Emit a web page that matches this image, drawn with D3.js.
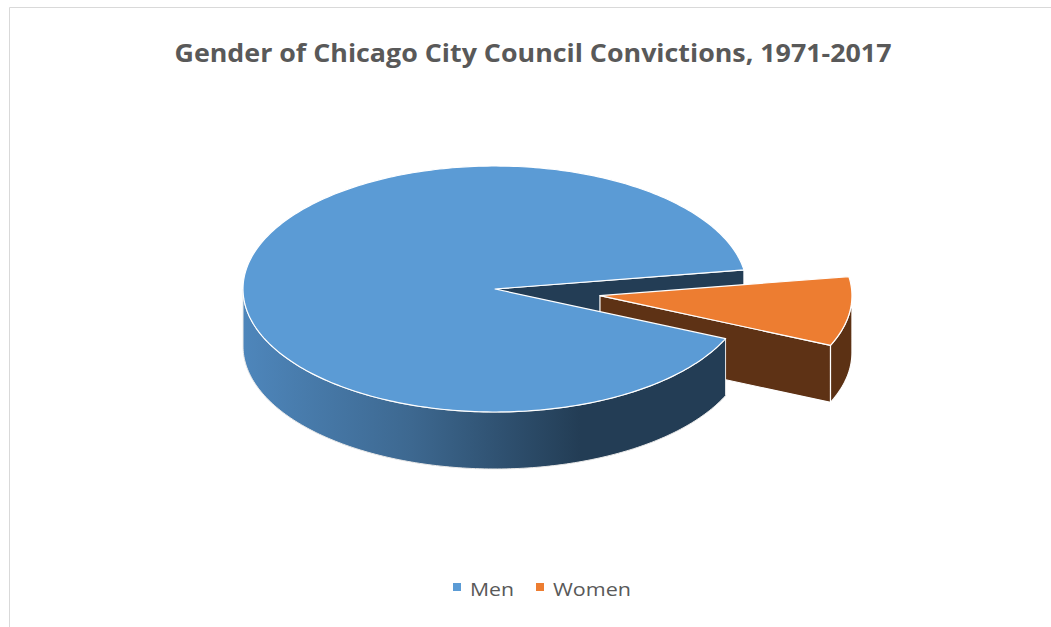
<!DOCTYPE html>
<html><head><meta charset="utf-8">
<script src="https://cdn.jsdelivr.net/npm/d3@7"></script>
<style>html,body{margin:0;padding:0;background:#fff}svg{display:block}</style>
</head><body>
<script>
const title = "Gender of Chicago City Council Convictions, 1971-2017";
const categories = ["Men", "Women"];
const values = [30, 3];
const topColors = ["#5b9bd5", "#ed7d31"];
const explode = [0, 0.42];

const W = 1051, H = 627;
const svg = d3.select("body").append("svg").attr("width", W).attr("height", H);

// frame
svg.append("path").attr("d", `M9.5,${H} V7.5 H${W}`).attr("fill", "none").attr("stroke", "#d9d9d9").attr("stroke-width", 1);

const cx = 495, cy = 289, rx = 252, ry = 123, depth = 57;
const deg = Math.PI / 180;
const pie = d3.pie().sort(null).value(d => d).startAngle(113.8 * deg).endAngle(113.8 * deg + 2 * Math.PI);
const arcs = pie(values);

const defs = svg.append("defs");
const g1 = defs.append("linearGradient").attr("id", "menSide").attr("gradientUnits", "userSpaceOnUse")
  .attr("x1", cx - rx).attr("x2", 580).attr("y1", 0).attr("y2", 0);
g1.append("stop").attr("offset", 0).attr("stop-color", "#4e86bb");
g1.append("stop").attr("offset", 0.5).attr("stop-color", "#3d6890");
g1.append("stop").attr("offset", 1).attr("stop-color", "#233d55");

function pt(th, r, h, off) {
  return [off[0] + cx + rx * r * Math.cos(th), off[1] + cy + ry * r * Math.sin(th) + h];
}
function arcPts(t0, t1, h, off) {
  const n = Math.max(2, Math.ceil(Math.abs(t1 - t0) / (1 * deg)));
  const pts = [];
  for (let i = 0; i <= n; i++) pts.push(pt(t0 + (t1 - t0) * i / n, 1, h, off));
  return pts;
}
const line = d3.line();

const slices = arcs.map((a, i) => {
  const t0 = a.startAngle - Math.PI / 2, t1 = a.endAngle - Math.PI / 2;
  const mid = (t0 + t1) / 2;
  const off = [rx * explode[i] * Math.cos(mid), ry * explode[i] * Math.sin(mid)];
  return { i, t0, t1, off };
});

function topPath(s) {
  const c = pt(0, 0, 0, s.off);
  return line([c, ...arcPts(s.t0, s.t1, 0, s.off)]) + "Z";
}
function radialPath(s, th) {
  const c = pt(0, 0, 0, s.off), e = pt(th, 1, 0, s.off);
  const eb = pt(th, 1, depth, s.off), cb = pt(0, 0, depth, s.off);
  return line([c, e, eb, cb]) + "Z";
}
function sidePath(s) {
  const segs = [];
  for (let k = -1; k <= 2; k++) {
    const lo = Math.max(s.t0, k * 2 * Math.PI), hi = Math.min(s.t1, k * 2 * Math.PI + Math.PI);
    if (hi > lo) segs.push([lo, hi]);
  }
  return segs.map(([lo, hi]) => {
    const top = arcPts(lo, hi, 0, s.off), bot = arcPts(hi, lo, depth, s.off);
    return line([...top, ...bot]) + "Z";
  }).join(" ");
}

const men = slices[0], women = slices[1];
const stroke = { c: "#ffffff", w: 1.2 };

svg.append("path").attr("d", radialPath(men, men.t1)).attr("fill", "#233d55").attr("stroke", stroke.c).attr("stroke-width", stroke.w).attr("stroke-linejoin", "round");

svg.append("path").attr("d", radialPath(women, women.t1)).attr("fill", "#5e3215").attr("stroke", stroke.c).attr("stroke-width", stroke.w).attr("stroke-linejoin", "round");
svg.append("path").attr("d", sidePath(women)).attr("fill", "#5c3114").attr("stroke", stroke.c).attr("stroke-width", stroke.w).attr("stroke-linejoin", "round");
svg.append("path").attr("d", topPath(women)).attr("fill", topColors[1]).attr("stroke", stroke.c).attr("stroke-width", stroke.w).attr("stroke-linejoin", "round");

svg.append("path").attr("d", sidePath(men)).attr("fill", "url(#menSide)").attr("stroke", "#e8e8e8").attr("stroke-width", 1).attr("stroke-linejoin", "round");
svg.append("path").attr("d", topPath(men)).attr("fill", topColors[0]).attr("stroke", stroke.c).attr("stroke-width", stroke.w).attr("stroke-linejoin", "round");

// Title
svg.append("text").attr("x", 533).attr("y", 62).attr("text-anchor", "middle")
  .attr("font-family", "'Open Sans', Lato, sans-serif").attr("font-weight", 700).attr("font-size", 25)
  .attr("fill", "#595959").attr("textLength", 717).attr("lengthAdjust", "spacingAndGlyphs").text(title);

// Legend
const legX = [453, 536], legTextX = [470, 553], legW = [44, 78];
const leg = svg.append("g");
categories.forEach((c, i) => {
  leg.append("rect").attr("x", legX[i]).attr("y", 583).attr("width", 8).attr("height", 8).attr("fill", topColors[i]);
  leg.append("text").attr("x", legTextX[i]).attr("y", 596)
    .attr("font-family", "'Open Sans', Lato, sans-serif").attr("font-size", 18).attr("fill", "#595959")
    .attr("textLength", legW[i]).attr("lengthAdjust", "spacingAndGlyphs").text(c);
});
</script>
</body></html>
